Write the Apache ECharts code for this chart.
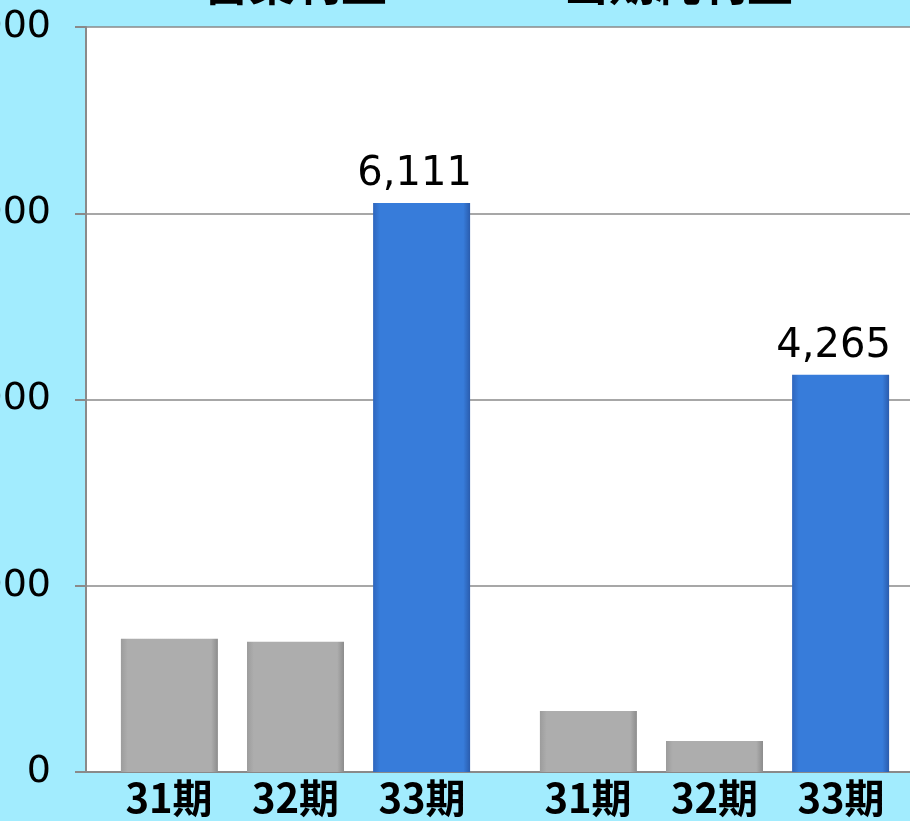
<!DOCTYPE html>
<html>
<head>
<meta charset="utf-8">
<script src="https://cdn.jsdelivr.net/npm/echarts@6/dist/echarts.min.js"></script>
<style>
  html, body { margin: 0; padding: 0; background: #A2ECFE; }
  #chart { width: 910px; height: 821px; }
</style>
</head>
<body>
<div id="chart"></div>
<script>
// ---- Data ----
const categories = ['営業利益', '当期純利益'];
const periods = ['31期', '32期', '33期'];
const values31 = [1430, 656];
const values32 = [1398, 333];
const values33 = [6111, 4265];
const yMin = 0, yMax = 8000, yInterval = 2000;

const fmt = v => v.toLocaleString('en-US');

function grad(edge, base, edge2) {
  return {
    type: 'linear', x: 0, y: 0, x2: 1, y2: 0,
    colorStops: [
      { offset: 0, color: edge },
      { offset: 0.07, color: base },
      { offset: 0.93, color: base },
      { offset: 1, color: edge2 }
    ]
  };
}
const grayFill = grad('#9c9c9c', '#ADADAD', '#8c8c8c');
const blueFill = grad('#2f66bd', '#377CDA', '#2a5cad');

const chart = echarts.init(document.getElementById('chart'), null, { renderer: 'canvas' });

const titleLefts = [203, 563];
const xRich = {};
periods.forEach((p, i) => {
  xRich['p' + i] = { width: 126.5, align: 'center', fontFamily: 'Noto Sans CJK JP', fontWeight: 'bold', fontSize: 40, color: '#000', lineHeight: 40 };
});

const option = {
  animation: false,
  backgroundColor: '#A2ECFE',
  title: categories.map((c, i) => ({
    text: c,
    left: titleLefts[i],
    top: -40,
    padding: 0,
    textStyle: { fontFamily: 'Noto Sans CJK JP', fontWeight: 'bold', fontSize: 46, color: '#000', lineHeight: 46 }
  })),
  grid: {
    left: 86, right: -14, top: 27, bottom: 49,
    show: true, backgroundColor: '#FFFFFF', borderWidth: 0,
    containLabel: false, outerBoundsMode: 'none'
  },
  xAxis: {
    type: 'category',
    data: categories,
    axisLine: { show: true, lineStyle: { color: '#8a8a8a', width: 2 } },
    axisTick: { show: false },
    axisLabel: {
      margin: 6,
      formatter: () => periods.map((p, i) => '{p' + i + '|' + p + '}').join(''),
      rich: xRich
    }
  },
  yAxis: {
    type: 'value',
    min: yMin, max: yMax, interval: yInterval,
    axisLine: { show: true, lineStyle: { color: '#8a8a8a', width: 2 } },
    axisTick: { show: true, length: 11, lineStyle: { color: '#8a8a8a', width: 2 } },
    splitLine: { show: true, lineStyle: { color: '#8a8a8a', width: 1.5 } },
    axisLabel: {
      margin: 35,
      formatter: v => fmt(v),
      fontFamily: 'DejaVu Sans', fontSize: 38, color: '#000'
    }
  },
  series: [
    {
      name: periods[0], type: 'bar', data: values31,
      barWidth: 97, barGap: '30%',
      itemStyle: { color: grayFill }
    },
    {
      name: periods[1], type: 'bar', data: values32,
      barWidth: 97, barGap: '30%',
      itemStyle: { color: grayFill }
    },
    {
      name: periods[2], type: 'bar', data: values33,
      barWidth: 97, barGap: '30%',
      itemStyle: { color: blueFill },
      label: {
        show: true, position: 'top', distance: 8, offset: [-7, 0],
        formatter: p => fmt(p.value),
        fontFamily: 'DejaVu Sans', fontSize: 40, color: '#000'
      }
    }
  ]
};
chart.setOption(option);
</script>
</body>
</html>
